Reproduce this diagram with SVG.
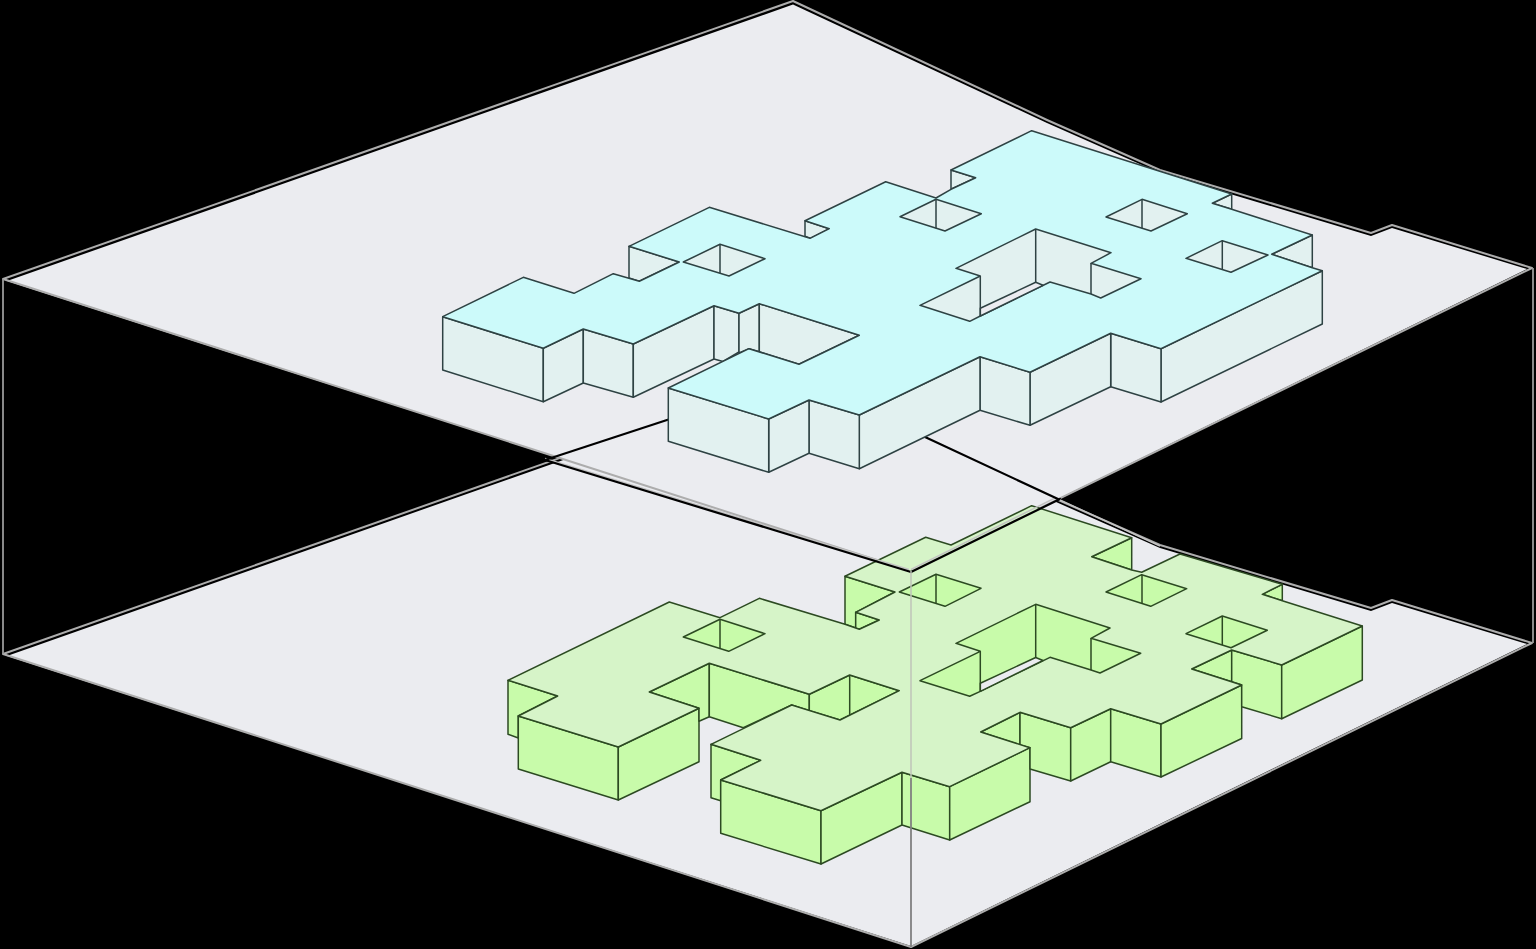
<svg xmlns="http://www.w3.org/2000/svg" width="1536" height="949" viewBox="0 0 1536 949">
<style>
.plate{fill:#ebecf0;stroke:none}
.rim{fill:none;stroke:#adadad;stroke-width:2;stroke-linejoin:round}
.blk{fill:none;stroke:#000;stroke-width:2.2;stroke-linecap:round}
.lgt{fill:none;stroke:#c2c2c2;stroke-width:1.4}
.post{fill:none;stroke:#9a9a9a;stroke-width:1.8}
#blue polygon,#blue path{stroke:#2e4243;stroke-width:1.5;stroke-linejoin:round}
#green polygon,#green path{stroke:#2c4a22;stroke-width:1.5;stroke-linejoin:round}
#blue .w{fill:#e2f1f0}
#blue .t{fill:#ccfafa}
#green .w{fill:#c8fbaa}
#green .t{fill:#d6f4c8}
.s{fill:#ebecf0}
path{fill:none}
</style>
<rect width="1536" height="949" fill="#000"/>
<g id="lower-plate">
<polygon class="plate" points="7,656 793,379 1047,498 1160,548 1371,611 1392,603 1527,644 911,946"/>
<polygon class="rim" points="3,654 793,376 1047,495 1160,545 1371,608 1392,600 1532,643 911,947"/>
</g>
<g id="upper-plate">
<polygon class="plate" points="7,281 793,4.5 1047,123 1160,173 1371,236 1392,228 1527,269 911,571"/>
<polygon class="rim" points="3,279 793,1 1047,120 1160,170 1371,233 1392,225 1532,268 911,571"/>
</g>
<g id="posts">
<line class="post" x1="3" y1="279" x2="3" y2="654"/>
<line class="post" x1="1533" y1="268" x2="1533" y2="643"/>
</g>
<g id="green">
<polygon class="w" points="508,680.3 557.7,696 518.3,716 518.3,738 508,734.3"/>
<polygon class="w" points="518.3,716 618.3,747 618.3,800 518.3,769"/>
<polygon class="w" points="618.3,747 699,708.3 699,761.7 618.3,800"/>
<polygon class="w" points="649.3,692 709.3,663.3 709.3,716.7 699,721.3 699,708.3"/>
<polygon class="w" points="709.3,663.3 809.3,694.3 809.3,710.7 791.7,705 743.3,727.7 709.3,716.7"/>
<polygon class="w" points="809.3,694.3 849.7,675 899.3,690.7 840,720 809.3,710.7"/>
<polygon class="w" points="711,744.3 760.7,760.3 720.7,780 720.7,800.7 711,797.7"/>
<polygon class="w" points="720.7,780 821,810.7 821,864 720.7,833.3"/>
<polygon class="w" points="821,810.7 902,772.3 902,825 821,864"/>
<polygon class="w" points="902,772.3 949.7,786.7 949.7,840 902,825"/>
<polygon class="w" points="949.7,786.7 1030,747.7 1030,801.7 949.7,840"/>
<polygon class="w" points="980.7,732 1020,712.3 1020,745"/>
<polygon class="w" points="1020,712.3 1070.7,727.7 1070.7,781 1030,769 1030,747.7 1020,745"/>
<polygon class="w" points="1070.7,727.7 1110.7,708.7 1110.7,761.7 1070.7,781"/>
<polygon class="w" points="1110.7,708.7 1161,724 1161,777 1110.7,761.7"/>
<polygon class="w" points="1161,724 1241.7,685 1241.7,738.5 1161,777"/>
<polygon class="w" points="1191.7,669 1231.7,650 1231.7,681.7"/>
<polygon class="w" points="1231.7,650 1281.7,665 1281.7,718.7 1241.7,706.7 1241.7,685 1231.7,681.7"/>
<polygon class="w" points="1281.7,665 1362.3,626 1362.3,680 1281.7,718.7"/>
<polygon class="w" points="1131.7,537.7 1091.7,556.7 1131.7,570"/>
<polygon class="w" points="1282.3,584.3 1262.3,594.3 1282.3,600.7"/>
<polygon class="w" points="845,576.3 895,592 855.7,612.3 855.7,628 845,624.3"/>
<polygon class="w" points="855.7,612.3 879.3,620 859.3,629.3 855.7,628.3"/>
<polygon class="t" points="508,680.3 669.3,602 720,617.7 759.3,598.3 845,624.3 859.3,629.3 879.3,620 855.7,612.3 895,592 845,576.3 925.7,537.3 951,545 1031.7,505.7 1131.7,537.7 1091.7,556.7 1131.7,570 1141.7,572.3 1180,554 1282.3,584.3 1262.3,594.3 1282.3,600.7 1362.3,626 1281.7,665 1231.7,650 1191.7,669 1241.7,685 1161,724 1110.7,708.7 1070.7,727.7 1020,712.3 980.7,732 1030,747.7 949.7,786.7 902,772.3 821,810.7 720.7,780 760.7,760.3 711,744.3 791.7,705 840,720 899.3,690.7 849.7,675 809.3,694.3 709.3,663.3 649.3,692 699,708.3 618.3,747 518.3,716 557.7,696"/>
<polygon class="w" points="683.3,637 720,619.3 765,633.7 728.7,651.3"/>
<polygon class="w" points="899.3,592 936,574.3 981,588.3 945,606.3"/>
<polygon class="w" points="1106,592 1141.7,574.7 1186.7,588.7 1150.7,606.3"/>
<polygon class="w" points="1186,633.7 1222.3,616 1267.3,630.3 1231,647.7"/>
<polygon class="w" points="956,643.3 1035.7,604.3 1110,628 1091,638.3 1140.7,653.3 1100,673 1091,670 1050,657.3 980.3,691.3 969.7,696.3 920,680.7 980.3,651.3"/>
<polygon class="s" points="980.3,683.3 1035.7,657.5 1043,660.5 980.3,691.3"/>
<path d="M720 619.3V648.3M936 574.3V603.3M1142 574.7V603.3M1222.3 616V645M849.7 675V715M1035.7 604.3V657.5M1091 638.3V670M980.3 651.3V691.3"/>
</g>
<g id="plate-edges">
<line class="lgt" x1="545" y1="458.5" x2="909" y2="569.5"/>
<line class="blk" x1="545" y1="460" x2="911" y2="572"/>
<line class="lgt" x1="911" y1="569.5" x2="1055" y2="498"/>
<line class="blk" x1="911" y1="572" x2="1060" y2="499"/>
<line class="blk" x1="545" y1="460" x2="670" y2="419"/>
<line class="blk" x1="925" y1="437" x2="1058" y2="499"/>
<line class="lgt" x1="1060" y1="500" x2="1160" y2="546"/>
<line x1="911" y1="571" x2="911" y2="778" stroke="#bfc4ba" stroke-width="1.5"/>
<line x1="911" y1="778" x2="911" y2="947" stroke="#808080" stroke-width="1.8"/>
</g>
<g id="blue">
<polygon class="w" points="442.7,316.7 543.3,348.3 543.3,401.7 442.7,370"/>
<polygon class="w" points="543.3,348.3 583.3,329 583.3,383 543.3,401.7"/>
<polygon class="w" points="583.3,329 633.3,344 633.3,397.3 583.3,383"/>
<polygon class="w" points="633.3,344 714,305.7 714,359 633.3,397.3"/>
<polygon class="w" points="714,305.7 739,313.3 739,352 723,361.5 714,359"/>
<polygon class="w" points="739,313.3 759.3,303.7 759.3,351.7 749,348.7 739,353"/>
<polygon class="w" points="759.3,303.7 859.3,335.3 799,364.3 759.3,351.7"/>
<polygon class="w" points="629,246.3 679.3,262 639.3,281.3 629,278"/>
<polygon class="w" points="805,220.7 829.3,228.7 810,238.3 805,236.3"/>
<polygon class="w" points="951,170 975.7,177.7 951,189.3"/>
<polygon class="w" points="1231.7,194 1212.3,203.3 1231.7,209.3"/>
<polygon class="w" points="1312.3,235 1271.7,254.3 1312.3,267.7"/>
<polygon class="w" points="1322.3,270.7 1322.3,324 1161,402 1161,348.7"/>
<polygon class="w" points="1161,348.7 1161,402 1110.7,386.7 1110.7,333.3"/>
<polygon class="w" points="1110.7,333.3 1110.7,386.7 1030,425.3 1030,372.3"/>
<polygon class="w" points="1030,372.3 1030,425.3 980,410.3 980,356.7"/>
<polygon class="w" points="980,356.7 980,410.3 859.3,468.7 859.3,415"/>
<polygon class="w" points="859.3,415 859.3,468.7 809,453.3 809,400"/>
<polygon class="w" points="809,400 809,453.3 768.7,472.3 768.7,419"/>
<polygon class="w" points="768.7,419 768.7,472.3 668.3,441.3 668.3,388"/>
<polygon class="t" points="442.7,316.7 523.3,277.3 574,293.3 613.3,273.7 639.3,281.3 679.3,262 629,246.3 709.3,207.3 810,238.3 829.3,228.7 805,220.7 885.7,181.7 936,198 951,189.3 975.7,177.7 951,170 1031.7,130.7 1231.7,194 1212.3,203.3 1231.7,209.3 1312.3,235 1271.7,254.3 1312.3,267.7 1322.3,270.7 1161,348.7 1110.7,333.3 1030,372.3 980,356.7 859.3,415 809,400 768.7,419 668.3,388 749,348.7 799,364.3 859.3,335.3 759.3,303.7 739,313.3 714,305.7 633.3,344 583.3,329 543.3,348.3"/>
<polygon class="w" points="683.3,262 720,244.3 765,258.7 729,276"/>
<polygon class="w" points="900,216.7 936,199.3 981.3,213.7 945,231"/>
<polygon class="w" points="1106,217 1142,199.3 1187.3,213.7 1151,231"/>
<polygon class="w" points="1186,258.3 1222.3,240.7 1268,255 1231,272.3"/>
<polygon class="w" points="956,268.3 1035.7,229 1111,252.7 1091,263.3 1141,278.7 1100.7,298 1091,294 1050,282 980.3,316 969.7,321.3 920,305.3 980.3,276"/>
<polygon class="s" points="980.3,308.3 1035.7,282.3 1043,285.3 980.3,316"/>
<path d="M720 244.3V273M936 199.3V228.3M1142 199.3V228M1222.3 240.7V270M1035.7 229V282.3M1091 263.3V294M980.3 276V316"/>
</g>
</svg>
